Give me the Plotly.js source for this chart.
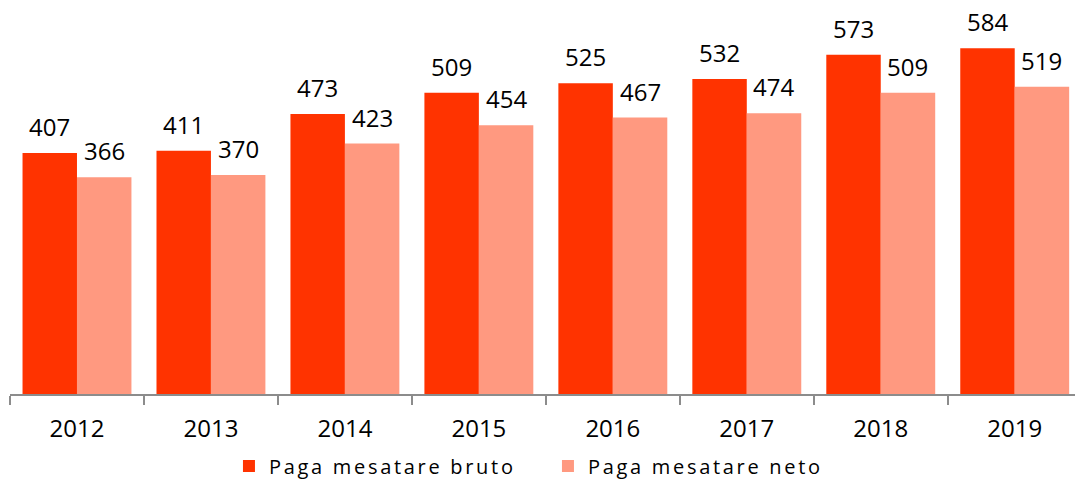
<!DOCTYPE html>
<html><head><meta charset="utf-8">
<script src="https://cdn.plot.ly/plotly-3.0.1.min.js"></script>
<style>html,body{margin:0;padding:0;background:#fff}#chart{width:1075px;height:480px}
.legendtext{letter-spacing:2.7px}</style>
</head><body><div id="chart"></div>
<script>
const years = ['2012','2013','2014','2015','2016','2017','2018','2019'];
const bruto = [407, 411, 473, 509, 525, 532, 573, 584];
const neto = [366, 370, 423, 454, 467, 474, 509, 519];
const seriesNames = ['Paga mesatare bruto', 'Paga mesatare neto'];
const FONT = '"Open Sans", Lato, sans-serif';
const colors = ['#FF3300', '#FF9980'];
const traces = [
  {type:'bar', x:years, y:bruto, name:seriesNames[0], marker:{color:colors[0]}},
  {type:'bar', x:years, y:neto, name:seriesNames[1], marker:{color:colors[1]}}
];
const halfBar = 27.2;
const annotations = [];
years.forEach((yr, i) => {
  annotations.push({xref:'x', yref:'y', x:i, y:bruto[i], text:String(bruto[i]), showarrow:false, xanchor:'center', yanchor:'bottom', xshift:-halfBar, yshift:8,
    font:{family:FONT, size:24, color:'#000'}});
  annotations.push({xref:'x', yref:'y', x:i, y:neto[i], text:String(neto[i]), showarrow:false, xanchor:'center', yanchor:'bottom', xshift:halfBar, yshift:8,
    font:{family:FONT, size:24, color:'#000'}});
});
const layout = {
  width:1075, height:480,
  margin:{l:10, r:0, t:10, b:86, autoexpand:false},
  paper_bgcolor:'#fff', plot_bgcolor:'#fff',
  font:{family:FONT, size:22, color:'#000'},
  barmode:'group', bargap:0.187, bargroupgap:0,
  xaxis:{type:'category', range:[-0.5, 7.45], showline:true, linecolor:'#8c8c8c', linewidth:2,
    ticks:'outside', tickson:'boundaries', ticklen:9, tickcolor:'#8c8c8c', tickwidth:2,
    ticklabelstandoff:12, automargin:false,
    tickfont:{family:FONT, size:24, color:'#000'}, showgrid:false, zeroline:false},
  yaxis:{range:[0, 648.6], visible:false, showgrid:false, zeroline:false},
  annotations: annotations,
  showlegend:true,
  legend:{orientation:'h', x:0.2056, xanchor:'left', y:-0.1875, yanchor:'middle', entrywidth:274,
    font:{family:FONT, size:20, color:'#000'}, itemwidth:30, traceorder:'normal'}
};
Plotly.newPlot('chart', traces, layout, {displayModeBar:false, staticPlot:true});
</script></body></html>
